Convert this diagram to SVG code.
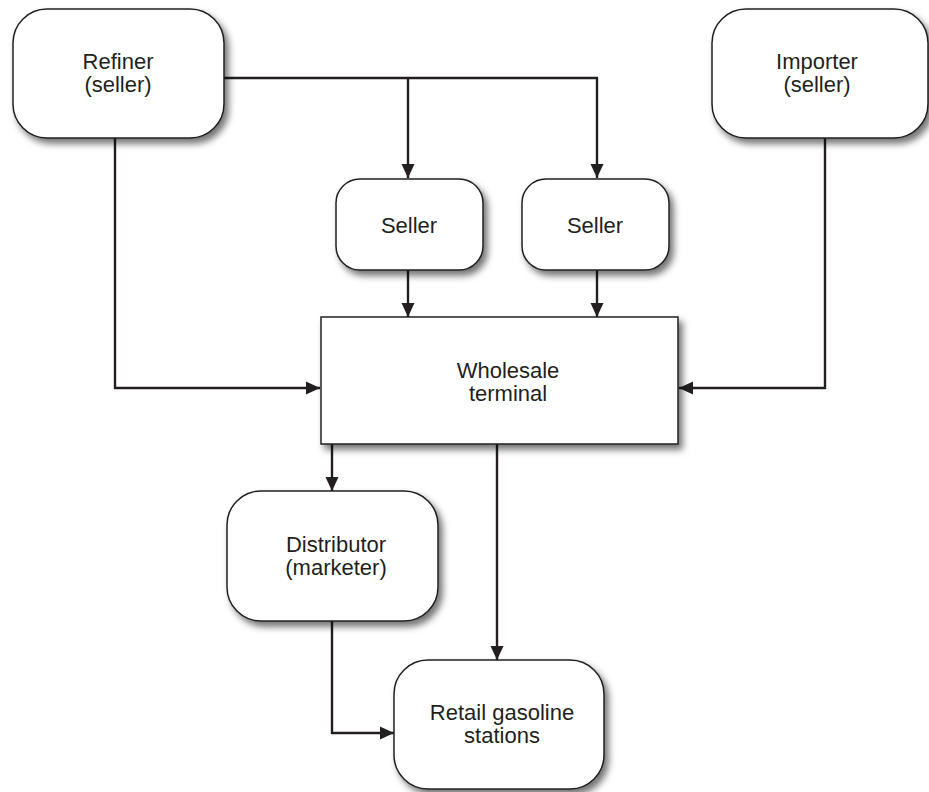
<svg xmlns="http://www.w3.org/2000/svg" width="929" height="792" viewBox="0 0 929 792">
<style>
.box{fill:#fff;stroke:#231f20;stroke-width:1.5;filter:url(#sh)}
.lbl{font-family:"Liberation Sans",Arial,sans-serif;font-size:22px;fill:#231f20;text-anchor:middle}
.con{fill:none;stroke:#231f20;stroke-width:2.4}
</style>
<defs>
<filter id="sh" x="-20%" y="-20%" width="150%" height="150%">
<feDropShadow dx="4" dy="5" stdDeviation="3.5" flood-color="#000" flood-opacity="0.55"/>
</filter>
<marker id="ah" viewBox="0 0 14 14" refX="14" refY="7" markerWidth="14" markerHeight="14" markerUnits="userSpaceOnUse" orient="auto">
<path d="M0,0.5 L14,7 L0,13.5 Z" fill="#231f20"/>
</marker>
</defs>
<rect width="929" height="792" fill="#fff"/>
<g id="connectors">
<path class="con" d="M224,78 H597 V178" marker-end="url(#ah)"/>
<path class="con" d="M408,78 V178" marker-end="url(#ah)"/>
<path class="con" d="M115,138 V388 H320" marker-end="url(#ah)"/>
<path class="con" d="M825,138 V388 H679" marker-end="url(#ah)"/>
<path class="con" d="M408,270 V317" marker-end="url(#ah)"/>
<path class="con" d="M597,270 V317" marker-end="url(#ah)"/>
<path class="con" d="M332,444 V491" marker-end="url(#ah)"/>
<path class="con" d="M497,444 V660" marker-end="url(#ah)"/>
<path class="con" d="M332,621 V733 H394" marker-end="url(#ah)"/>
</g>
<g id="refiner">
<rect class="box" x="13" y="9" width="211" height="129" rx="34"/>
<text class="lbl" x="118" y="69">Refiner</text>
<text class="lbl" x="118" y="92">(seller)</text>
</g>
<g id="importer">
<rect class="box" x="712" y="9" width="216" height="129" rx="34"/>
<text class="lbl" x="817" y="69">Importer</text>
<text class="lbl" x="817" y="92">(seller)</text>
</g>
<g id="seller1">
<rect class="box" x="336" y="179" width="147" height="91" rx="24"/>
<text class="lbl" x="409" y="233">Seller</text>
</g>
<g id="seller2">
<rect class="box" x="522" y="179" width="147" height="91" rx="24"/>
<text class="lbl" x="595" y="233">Seller</text>
</g>
<g id="wholesale">
<rect class="box" x="321" y="317" width="357" height="127"/>
<text class="lbl" x="508" y="378">Wholesale</text>
<text class="lbl" x="508" y="401">terminal</text>
</g>
<g id="distributor">
<rect class="box" x="227" y="491" width="211" height="130" rx="34"/>
<text class="lbl" x="336" y="552">Distributor</text>
<text class="lbl" x="336" y="575">(marketer)</text>
</g>
<g id="retail">
<rect class="box" x="394" y="660" width="210" height="129" rx="34"/>
<text class="lbl" x="502" y="720">Retail gasoline</text>
<text class="lbl" x="502" y="743">stations</text>
</g>
</svg>
